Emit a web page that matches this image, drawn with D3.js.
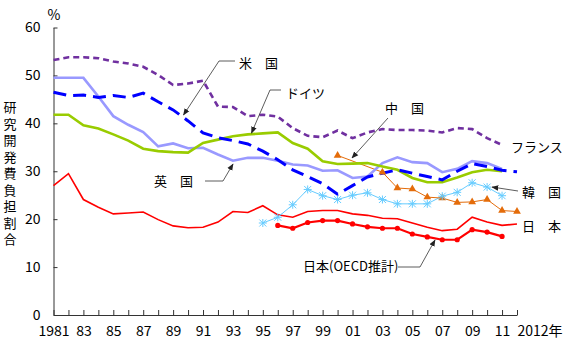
<!DOCTYPE html>
<html>
<head>
<meta charset="utf-8">
<script src="https://cdn.jsdelivr.net/npm/d3@7"></script>
<style>
  body { margin: 0; background: #fff; }
  text { font-family: "Noto Sans CJK JP", "Liberation Sans", sans-serif; fill: #000; }
</style>
</head>
<body>
<div id="chart"></div>
<script>
// Data
const years = d3.range(1981, 2013);
const y_ticks = [0, 10, 20, 30, 40, 50, 60];

const france = [53.2, 53.8, 53.8, 53.6, 52.9, 52.5, 51.8, 50.1, 48.0, 48.3, 48.9,
    43.5, 43.4, 41.5, 41.8, 41.4, 39.0, 37.4, 37.1, 38.5, 36.9,
    38.1, 38.8, 38.6, 38.6, 38.5, 38.1, 39.0, 38.8, 36.9, 35.5];
const usa = [46.5, 45.8, 45.9, 45.4, 45.8, 45.4, 46.3, 44.5, 42.8, 40.5,
    38.0, 37.0, 36.4, 35.7, 34.2, 32.4, 30.3, 28.9, 27.4, 25.2,
    27.0, 28.8, 29.6, 30.3, 29.6, 28.9, 28.2, 30.0, 31.6, 31.0, 30.2, 29.9];
const uk = [49.5, 49.5, 49.5, 45.6, 41.5, 39.7, 38.2, 35.2, 35.8, 34.8,
    34.9, 33.5, 32.2, 32.8, 32.8, 32.2, 31.4, 31.2, 30.1, 30.2,
    28.6, 28.9, 31.7, 32.9, 31.9, 31.7, 29.8, 30.5, 32.1, 31.7, 30.5];
const germany = [41.8, 41.8, 39.6, 38.9, 37.7, 36.4, 34.7, 34.2, 34.0, 33.9,
    35.9, 36.6, 37.3, 37.7, 37.9, 38.1, 35.9, 34.7, 32.1, 31.5,
    31.6, 31.7, 31.0, 30.3, 28.6, 27.7, 27.7, 28.7, 29.8, 30.3, 30.0];
const japan = [27.0, 29.5, 24.1, 22.5, 21.1, 21.3, 21.5, 19.9, 18.6, 18.2,
    18.3, 19.4, 21.6, 21.4, 22.8, 20.9, 20.4, 21.6, 21.8, 21.8,
    21.1, 20.8, 20.2, 20.1, 19.2, 18.3, 17.6, 17.9, 20.4, 19.4, 18.7, 19.0];
const japan_oecd_years = d3.range(1996, 2012);
const japan_oecd = [18.7, 18.1, 19.3, 19.7, 19.7, 19.0, 18.4, 18.1, 18.1, 16.9,
    16.3, 15.7, 15.7, 17.8, 17.3, 16.4];
const china_years = [2000, 2003, 2004, 2005, 2006, 2007, 2008, 2009, 2010, 2011, 2012];
const china = [33.3, 29.8, 26.5, 26.3, 24.6, 24.4, 23.5, 23.6, 24.1, 21.8, 21.6];
const korea_years = d3.range(1995, 2012);
const korea = [19.2, 20.4, 23.0, 26.2, 24.9, 24.1, 25.0, 25.5, 24.1, 23.2,
    23.2, 23.2, 24.8, 25.6, 27.6, 26.7, 24.9];

const zip = (ys, vs) => ys.slice(0, vs.length).map((yr, i) => [yr, vs[i]]);

const chart_width = 565;
const chart_height = 350;

const svg = d3.select('#chart')
    .append('svg')
    .attr('width', chart_width)
    .attr('height', chart_height);

svg.append('defs').append('marker')
    .attr('id', 'arrow')
    .attr('viewBox', '0 0 10 10')
    .attr('refX', 9)
    .attr('refY', 5)
    .attr('markerWidth', 7)
    .attr('markerHeight', 7)
    .attr('markerUnits', 'userSpaceOnUse')
    .attr('orient', 'auto')
    .append('path')
    .attr('d', 'M0,1 L10,5 L0,9 z')
    .attr('fill', '#222');

// Scales
const x_scale = d3.scaleLinear().domain([1981, 2012]).range([53.5, 517]);
const y_scale = d3.scaleLinear().domain([0, 60]).range([315, 27.5]);

// Axes
const x_axis = d3.axisBottom(x_scale)
    .tickValues(years)
    .tickSizeInner(-5)
    .tickSizeOuter(0)
    .tickPadding(11)
    .tickFormat(d => d === 1981 ? '1981' : d === 2012 ? '2012年' : (d % 2 === 1 ? String(d).slice(2) : ''));

const gx = svg.append('g')
    .attr('transform', `translate(0, ${y_scale(0)})`)
    .call(x_axis);
gx.selectAll('text').attr('font-size', 14);
gx.selectAll('.tick').filter(d => d === 2012).select('text')
    .attr('text-anchor', 'start').attr('x', 0);

const y_axis = d3.axisLeft(y_scale)
    .tickValues(y_ticks)
    .tickSizeInner(-4)
    .tickSizeOuter(0)
    .tickPadding(13);

const gy = svg.append('g')
    .attr('transform', `translate(${x_scale(1981)}, 0)`)
    .call(y_axis);
gy.selectAll('text').attr('font-size', 14);

svg.selectAll('.domain, .tick line').attr('stroke', '#333');

// Axis titles
svg.append('text').attr('x', 54).attr('y', 20).attr('text-anchor', 'middle')
    .attr('font-size', 14).text('%');

// vertical y title
svg.append('text')
    .attr('x', 10)
    .attr('y', 101)
    .attr('font-size', 13)
    .style('writing-mode', 'vertical-rl')
    .style('text-orientation', 'upright')
    .style('letter-spacing', '3.5px')
    .text('研究開発費負担割合');

// Lines
const line = d3.line().x(d => x_scale(d[0])).y(d => y_scale(d[1]));

const series = [
    { data: zip(years, japan), color: '#ff0000', width: 1.6, dash: null },
    { data: zip(japan_oecd_years, japan_oecd), color: '#ff0000', width: 2.2, dash: null },
    { data: zip(korea_years, korea), color: '#66ccff', width: 1, dash: null },
    { data: zip(china_years, china), color: '#e46c0a', width: 1, dash: null },
    { data: zip(years, uk), color: '#9999ff', width: 2.6, dash: null },
    { data: zip(years, germany), color: '#99cc00', width: 2.6, dash: null },
    { data: zip(years, usa), color: '#0000ff', width: 3, dash: '13,7' },
    { data: zip(years, france), color: '#7030a0', width: 2.6, dash: '6,4' },
];

svg.append('g').selectAll('path')
    .data(series)
    .enter()
    .append('path')
    .attr('d', d => line(d.data))
    .attr('fill', 'none')
    .attr('stroke', d => d.color)
    .attr('stroke-width', d => d.width)
    .attr('stroke-dasharray', d => d.dash);

// Markers
svg.append('g').selectAll('circle')
    .data(zip(japan_oecd_years, japan_oecd))
    .enter()
    .append('circle')
    .attr('cx', d => x_scale(d[0]))
    .attr('cy', d => y_scale(d[1]))
    .attr('r', 2.6)
    .attr('fill', '#ff0000');

svg.append('g').selectAll('path')
    .data(zip(china_years, china))
    .enter()
    .append('path')
    .attr('d', d3.symbol(d3.symbolTriangle, 26))
    .attr('transform', d => `translate(${x_scale(d[0])}, ${y_scale(d[1])})`)
    .attr('fill', '#e46c0a');

svg.append('g').selectAll('path')
    .data(zip(korea_years, korea))
    .enter()
    .append('path')
    .attr('d', 'M-3.5,-3.5L3.5,3.5M-3.5,3.5L3.5,-3.5M0,-4L0,4M-4,0L4,0')
    .attr('transform', d => `translate(${x_scale(d[0])}, ${y_scale(d[1])})`)
    .attr('stroke', '#66ccff')
    .attr('stroke-width', 1);

// Labels
const labels = [
    { text: '米\u3000国', x: 239, y: 68 },
    { text: 'ドイツ', x: 286, y: 98 },
    { text: '中\u3000国', x: 385, y: 113 },
    { text: 'フランス', x: 511, y: 152 },
    { text: '英\u3000国', x: 154, y: 186 },
    { text: '韓\u3000国', x: 522, y: 197 },
    { text: '日\u3000本', x: 522, y: 231 },
    { text: '日本(OECD推計)', x: 303, y: 271 },
];

svg.append('g').selectAll('text')
    .data(labels)
    .enter()
    .append('text')
    .attr('x', d => d.x)
    .attr('y', d => d.y)
    .attr('font-size', 13)
    .text(d => d.text);

const leaders = [
    [[235, 61], [219, 61], [183.5, 115]],
    [[281, 90], [270, 90], [251.5, 133]],
    [[388, 118], [352, 158]],
    [[205, 181], [223, 181], [233, 164]],
    [[518, 191], [492, 187]],
    [[398, 267], [420, 267], [435, 240]],
];

svg.append('g').selectAll('path')
    .data(leaders)
    .enter()
    .append('path')
    .attr('d', d => d3.line()(d))
    .attr('fill', 'none')
    .attr('stroke', '#333')
    .attr('stroke-width', 0.8)
    .attr('marker-end', 'url(#arrow)');
</script>
</body>
</html>
